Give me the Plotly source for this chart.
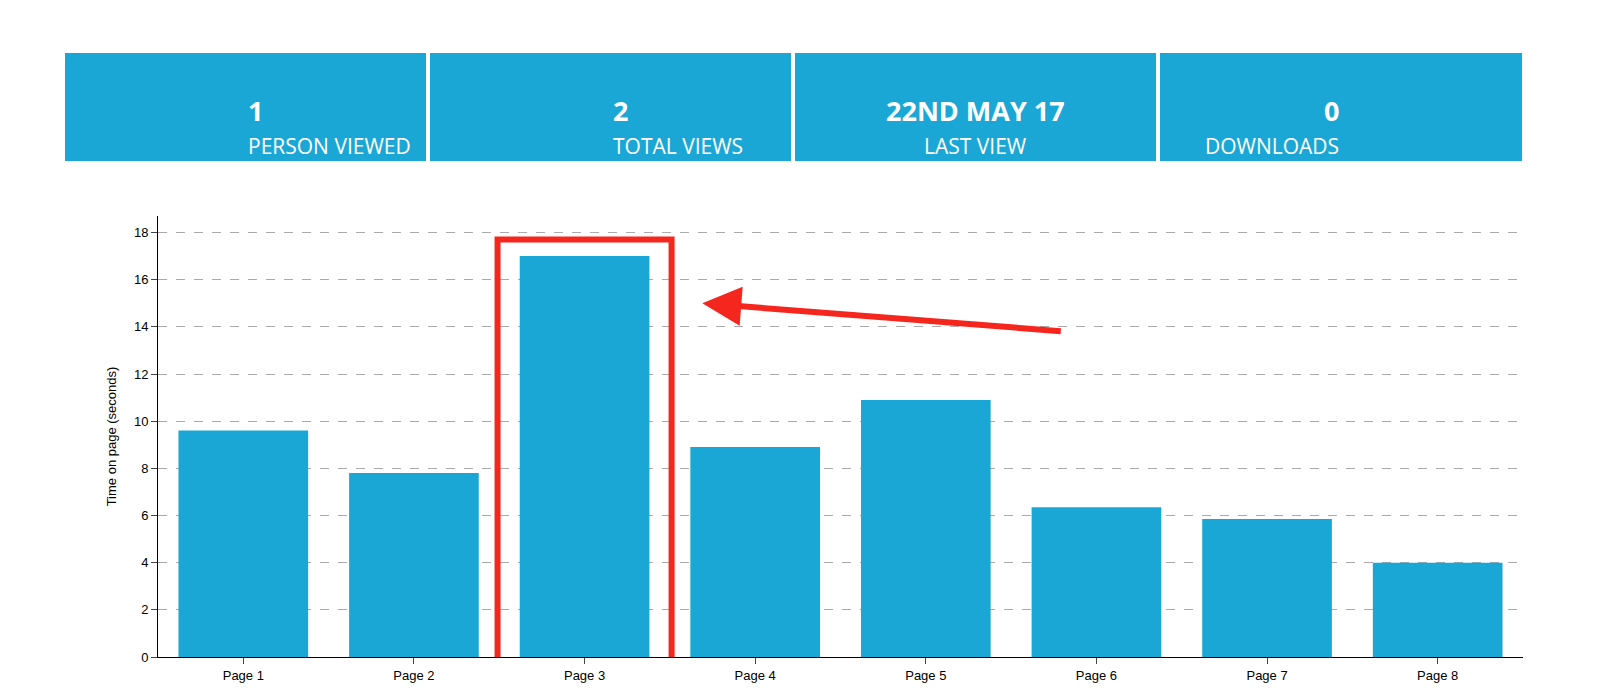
import plotly.graph_objects as go

pages = ["Page 1", "Page 2", "Page 3", "Page 4", "Page 5", "Page 6", "Page 7", "Page 8"]
seconds = [9.6, 7.8, 17.0, 8.9, 10.9, 6.35, 5.85, 4.0]

stat_values = ["1", "2", "22ND MAY 17", "0"]
stat_labels = ["PERSON VIEWED", "TOTAL VIEWS", "LAST VIEW", "DOWNLOADS"]

BLUE = "#1ba7d6"
RED = "#f5261d"

fig = go.Figure(go.Bar(x=pages, y=seconds, marker_color=BLUE, marker_line_width=0))

# pixel -> paper helpers (plot area: x 150..1515, y 208..649)
L, R, T, B = 150, 85, 208, 48
PW, PH = 1600 - L - R, 697 - T - B
px = lambda v: (v - L) / PW
py = lambda v: (697 - B - v) / PH

shapes = []
annotations = []
box_edges = [(57, 418), (422, 783), (787, 1148), (1152, 1514)]
for (x0, x1), val, lab in zip(box_edges, stat_values, stat_labels):
    shapes.append(dict(type="rect", xref="paper", yref="paper", x0=px(x0), x1=px(x1),
                       y0=py(153), y1=py(45), fillcolor=BLUE, line_width=0, layer="below"))
    xc = px((x0 + x1) / 2)
    annotations.append(dict(xref="paper", yref="paper", x=xc, y=py(82), text=f"<b>{val}</b>",
                            showarrow=False, font=dict(family="Open Sans", size=27, color="white")))
    annotations.append(dict(xref="paper", yref="paper", x=xc, y=py(122), text=lab,
                            showarrow=False, font=dict(family="Open Sans", size=21, color="white")))

# highlight box around Page 3
shapes.append(dict(type="rect", xref="x", yref="y", x0=1.49, x1=2.51, y0=-1.4, y1=17.7,
                   line=dict(color=RED, width=6)))
# arrow pointing to Page 3
annotations.append(dict(xref="x", yref="y", x=2.69, y=15.0, ax=360, ay=28,
                        showarrow=True, arrowhead=2, arrowsize=1.3, arrowwidth=6,
                        arrowcolor=RED, text=""))

fig.update_layout(
    width=1600, height=697,
    margin=dict(l=L, r=R, t=T, b=B),
    plot_bgcolor="white", paper_bgcolor="white",
    bargap=0.24, showlegend=False,
    font=dict(family="Liberation Sans, Arial", size=13, color="black"),
    shapes=shapes, annotations=annotations,
    xaxis=dict(showline=True, linecolor="black", ticks="outside", ticklen=6,
               showgrid=False, tickfont=dict(size=13)),
    yaxis=dict(range=[0, 18.7], dtick=2, showline=True, linecolor="black",
               ticks="outside", ticklen=6, showgrid=True, gridcolor="#aaaaaa",
               griddash="dash", zeroline=False,
               title=dict(text="Time on page (seconds)", font=dict(size=13), standoff=14)),
)

fig.write_html("out.html")
